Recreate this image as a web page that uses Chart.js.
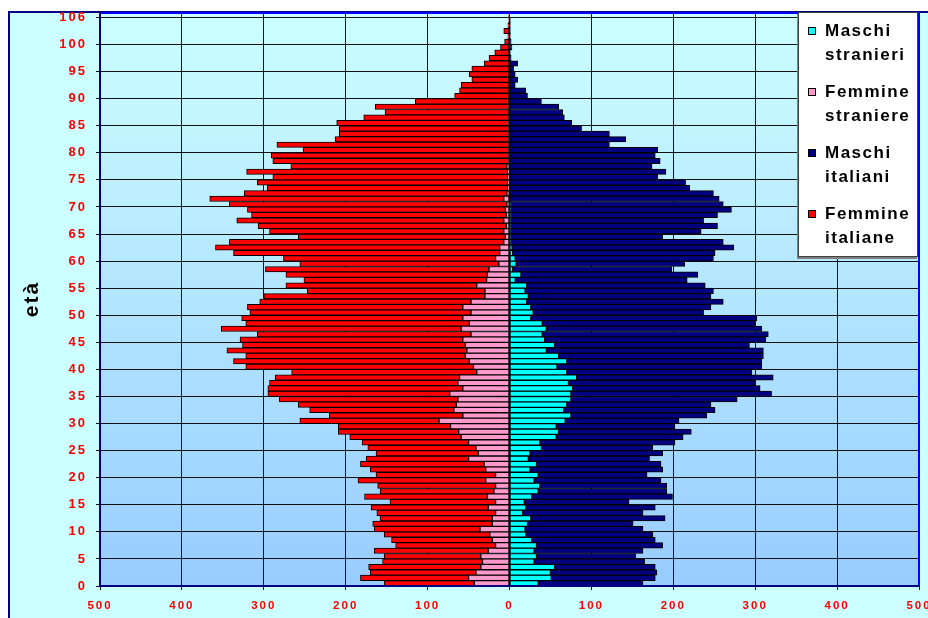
<!DOCTYPE html>
<html>
<head>
<meta charset="utf-8">
<title>Piramide delle età</title>
<script src="https://cdn.jsdelivr.net/npm/chart.js@4.4.0/dist/chart.umd.min.js"></script>
<style>
    html, body { margin: 0; padding: 0; background: #fff; }
    canvas { display: block; }
</style>
</head>
<body>
<canvas id="pyramidChart" width="928" height="618"></canvas>
<script>
// età (una barra per anno)
const ages = [
    0, 1, 2, 3, 4, 5, 6, 7, 8, 9, 10, 11, 12, 13, 14, 15, 16, 17, 18, 19,
    20, 21, 22, 23, 24, 25, 26, 27, 28, 29, 30, 31, 32, 33, 34, 35, 36, 37, 38, 39,
    40, 41, 42, 43, 44, 45, 46, 47, 48, 49, 50, 51, 52, 53, 54, 55, 56, 57, 58, 59,
    60, 61, 62, 63, 64, 65, 66, 67, 68, 69, 70, 71, 72, 73, 74, 75, 76, 77, 78, 79,
    80, 81, 82, 83, 84, 85, 86, 87, 88, 89, 90, 91, 92, 93, 94, 95, 96, 97, 98, 99,
    100, 101, 102, 103, 104, 105
];

const maschiStranieri = [
    35, 51, 50, 55, 30, 33, 30, 33, 27, 20, 19, 22, 26, 16, 20, 18, 27, 35, 37, 30,
    35, 25, 33, 23, 25, 39, 37, 57, 60, 57, 68, 75, 66, 70, 75, 75, 77, 72, 82, 70,
    58, 70, 60, 45, 55, 43, 40, 45, 40, 26, 29, 26, 21, 23, 19, 21, 7, 14, 4, 8,
    7, 4, 3, 1, 1, 1, 1, 1, 1, 1, 1, 0, 0, 0, 0, 0, 0, 0, 0, 0,
    0, 0, 0, 0, 0, 0, 0, 0, 0, 0, 0, 0, 0, 0, 0, 0, 0, 0, 0, 0,
    0, 0, 0, 0, 0, 0
];

const femmineStraniere = [
    43, 50, 41, 35, 33, 35, 26, 17, 21, 24, 36, 21, 21, 17, 26, 17, 27, 19, 17, 29,
    17, 29, 31, 50, 38, 41, 50, 59, 62, 72, 86, 57, 68, 65, 63, 73, 57, 63, 61, 40,
    44, 49, 54, 52, 54, 57, 47, 59, 49, 57, 47, 57, 47, 30, 30, 40, 28, 27, 25, 13,
    17, 12, 12, 7, 5, 7, 4, 7, 4, 5, 3, 7, 3, 2, 2, 2, 2, 3, 1, 1,
    1, 1, 1, 1, 1, 1, 1, 0, 1, 0, 0, 0, 0, 0, 0, 0, 0, 0, 0, 0,
    0, 0, 0, 0, 0, 0
];

const maschiItaliani = [
    128, 127, 130, 123, 135, 121, 133, 154, 151, 155, 144, 129, 164, 147, 158, 128, 172, 157, 155, 155,
    133, 162, 152, 148, 162, 136, 165, 155, 162, 145, 139, 166, 185, 176, 203, 245, 229, 228, 240, 226,
    250, 238, 250, 265, 238, 270, 276, 263, 260, 276, 208, 220, 240, 223, 230, 218, 210, 216, 194, 206,
    242, 247, 271, 260, 186, 233, 253, 236, 253, 270, 260, 256, 249, 220, 215, 181, 191, 174, 184, 178,
    181, 122, 142, 122, 88, 76, 67, 65, 60, 39, 22, 20, 7, 10, 7, 5, 10, 2, 1, 3,
    2, 1, 1, 1, 1, 0
];

const femmineItaliane = [
    110, 132, 129, 137, 122, 118, 139, 122, 123, 129, 129, 146, 137, 145, 143, 129, 150, 139, 144, 156,
    146, 141, 151, 125, 125, 132, 130, 136, 147, 137, 170, 163, 176, 193, 218, 222, 238, 230, 225, 226,
    278, 288, 268, 293, 272, 272, 261, 293, 273, 270, 270, 263, 258, 270, 217, 233, 223, 246, 273, 243,
    259, 325, 347, 335, 253, 286, 303, 326, 311, 315, 339, 359, 321, 294, 306, 287, 319, 264, 288, 290,
    251, 283, 212, 207, 207, 210, 177, 152, 163, 115, 67, 61, 59, 46, 49, 46, 31, 25, 18, 11,
    6, 2, 7, 2, 1, 1
];

// etichette dell'asse delle età
const yTickValues = [0, 5, 10, 15, 20, 25, 30, 35, 40, 45, 50, 55, 60, 65, 70, 75, 80, 85, 90, 95, 100, 105];
const yTickLabels = ['0', '5', '10', '15', '20', '25', '30', '35', '40', '45', '50', '55', '60', '65', '70', '75', '80', '85', '90', '95', '100', '106'];

const seriesNames = ['Maschi stranieri', 'Femmine straniere', 'Maschi italiani', 'Femmine italiane'];
const seriesColors = ['#00ffff', '#ff99cc', '#000080', '#ff0000'];

// femmine a sinistra (valori negativi), maschi a destra
function toPoints(values, side) {
    return values.map(function (v, i) {
        return { x: side * v, y: ages[i] + 0.5 };
    });
}

const seriesValues = [maschiStranieri, femmineStraniere, maschiItaliani, femmineItaliane];
const seriesSides = [1, -1, 1, -1];

const datasets = seriesNames.map(function (name, i) {
    return {
        label: name,
        data: toPoints(seriesValues[i], seriesSides[i]),
        backgroundColor: seriesColors[i],
        borderColor: '#000000',
        borderWidth: 1,
        borderSkipped: false,
        stack: 'piramide',
        barPercentage: 1,
        categoryPercentage: 1,
    };
});

const labelFont = { family: 'Arial, "Liberation Sans", sans-serif', weight: 'bold' };

// sfondo del grafico e dell'area del tracciato
const backgroundPlugin = {
    id: 'background',
    beforeDraw: function (chart) {
        const ctx = chart.ctx;
        const area = chart.chartArea;
        ctx.save();
        ctx.fillStyle = '#ffffff';
        ctx.fillRect(0, 0, chart.width, chart.height);
        ctx.fillStyle = '#ccffff';
        ctx.fillRect(8, 12, chart.width - 8, chart.height - 12);
        ctx.strokeStyle = '#000080';
        ctx.lineWidth = 2;
        ctx.beginPath();
        ctx.moveTo(9, chart.height);
        ctx.lineTo(9, 12);
        ctx.lineTo(chart.width, 12);
        ctx.stroke();
        const grad = ctx.createLinearGradient(0, area.top, 0, area.bottom);
        grad.addColorStop(0, '#ccffff');
        grad.addColorStop(1, '#99ccff');
        ctx.fillStyle = grad;
        ctx.fillRect(area.left, area.top, area.right - area.left, area.bottom - area.top);
        ctx.restore();
        ctx.letterSpacing = '2px';
    },
};

// bordi dell'area del tracciato e legenda sovrapposta
const frameAndLegendPlugin = {
    id: 'frameAndLegend',
    afterDatasetsDraw: function (chart) {
        const ctx = chart.ctx;
        const a = chart.chartArea;
        ctx.save();
        ctx.lineWidth = 2;
        ctx.strokeStyle = '#0000ff';
        ctx.beginPath();
        ctx.moveTo(a.left, a.top + 1);
        ctx.lineTo(a.right, a.top + 1);
        ctx.moveTo(a.right, a.top);
        ctx.lineTo(a.right, a.bottom);
        ctx.stroke();
        ctx.strokeStyle = '#000080';
        ctx.beginPath();
        ctx.moveTo(a.left, a.top);
        ctx.lineTo(a.left, a.bottom);
        ctx.lineTo(a.right, a.bottom);
        ctx.stroke();
        ctx.restore();
    },
    afterDraw: function (chart) {
        const ctx = chart.ctx;
        const x0 = 798, y0 = 12, w = 120, h = 245;
        ctx.save();
        ctx.fillStyle = '#808080';
        ctx.fillRect(x0 - 1, y0 + 2, w, h);
        ctx.fillStyle = '#ffffff';
        ctx.fillRect(x0, y0, w, h);
        ctx.strokeStyle = '#404040';
        ctx.lineWidth = 1;
        ctx.strokeRect(x0 + 0.5, y0 + 0.5, w - 1, h - 1);
        ctx.font = 'bold 17px Arial, "Liberation Sans", sans-serif';
        ctx.letterSpacing = '1.5px';
        ctx.textBaseline = 'middle';
        ctx.textAlign = 'left';
        chart.data.datasets.forEach(function (ds, i) {
            const cy = 31 + i * 61;
            ctx.fillStyle = ds.backgroundColor;
            ctx.fillRect(808.5, cy - 3.5, 7, 7);
            ctx.strokeStyle = '#000000';
            ctx.strokeRect(808.5, cy - 3.5, 7, 7);
            const words = ds.label.split(' ');
            ctx.fillStyle = '#000000';
            ctx.fillText(words[0], 825, cy);
            ctx.fillText(words[1], 825, cy + 24);
        });
        ctx.restore();
    },
};

const ctx = document.getElementById('pyramidChart').getContext('2d');
const chart = new Chart(ctx, {
    type: 'bar',
    data: { datasets: datasets },
    options: {
        responsive: false,
        animation: false,
        indexAxis: 'y',
        layout: { padding: { left: 0, right: 9, top: 12, bottom: 0 } },
        plugins: {
            legend: { display: false },
            tooltip: { enabled: false },
        },
        scales: {
            x: {
                type: 'linear',
                stacked: true,
                min: -500,
                max: 500,
                ticks: {
                    stepSize: 100,
                    color: '#ff0000',
                    font: Object.assign({ size: 11.5 }, labelFont),
                    padding: 9,
                    maxRotation: 0,
                    callback: function (value) { return Math.abs(value); },
                },
                grid: { color: '#111111', lineWidth: 1, tickLength: 4 },
                border: { display: true, color: '#000080', width: 2 },
                afterFit: function (scale) {
                    scale.height = 32;
                    scale.paddingLeft = 0;
                    scale.paddingRight = 0;
                },
            },
            y: {
                type: 'linear',
                min: 0,
                max: 106,
                offset: false,
                afterBuildTicks: function (scale) {
                    scale.ticks = yTickValues.map(function (v) { return { value: v }; });
                },
                ticks: {
                    autoSkip: false,
                    color: '#ff0000',
                    font: Object.assign({ size: 13 }, labelFont),
                    padding: 9,
                    callback: function (value, index) { return yTickLabels[index]; },
                },
                grid: { color: '#111111', lineWidth: 1, tickLength: 4, offset: false },
                border: { display: true, color: '#000080', width: 2 },
                title: {
                    display: true,
                    text: 'età',
                    color: '#000000',
                    font: Object.assign({ size: 21 }, labelFont),
                    padding: { top: 20, bottom: 0 },
                },
                afterFit: function (scale) {
                    scale.width = 100;
                    scale.paddingTop = 0;
                    scale.paddingBottom = 0;
                },
            },
        },
    },
    plugins: [backgroundPlugin, frameAndLegendPlugin],
});
</script>
</body>
</html>
